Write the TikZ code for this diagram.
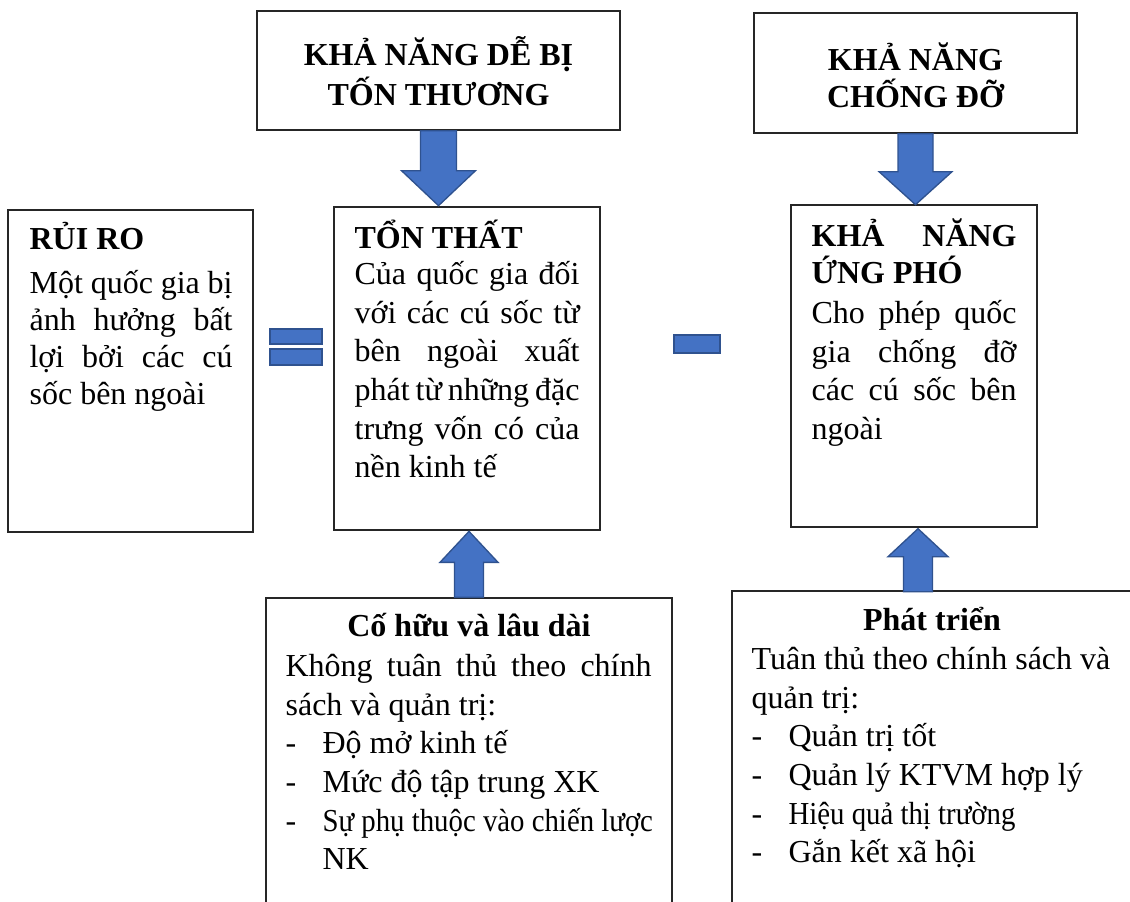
\documentclass[tikz,border=0pt]{standalone}
\usepackage{fontspec}
\setmainfont{Liberation Serif}
\usepackage{graphicx}
\usetikzlibrary{positioning, calc, fit}
\definecolor{arrowblue}{HTML}{4472C4}
\definecolor{arrowedge}{HTML}{2F528F}
\newcommand{\jline}[1]{\makebox[\hsize][s]{#1}} % justified line
\newcommand{\tight}[1]{\scalebox{0.9}[1]{#1}} % condensed line
\newcommand{\itemdash}{\makebox[27.75pt][l]{-}}
\tikzset{
    box/.style={draw=black!85, line width=1pt, fill=white, inner sep=0pt}, % the frames
    bluearrow/.style={draw=arrowedge, line width=1pt, fill=arrowblue, line join=miter}, % block arrows
    bluebar/.style={draw=arrowedge, line width=1pt, fill=arrowblue}, % = and - signs
    wordspace/.style={execute at begin node={\spaceskip=0.25em plus 0.6em minus 0.08em\relax}},
    fixedspace/.style={execute at begin node={\spaceskip=0.25em\relax}},
    headtext/.style={fixedspace, font=\fontsize{24}{30}\selectfont\bfseries, inner sep=0pt, align=center, anchor=base},
    titletext/.style={wordspace, font=\fontsize{24}{27.75}\selectfont\bfseries, inner sep=0pt, align=justify, anchor=base west},
    bodytext/.style={wordspace, font=\fontsize{24}{29}\selectfont, inner sep=0pt, align=justify, anchor=base west}
}
\begin{document}
\begin{tikzpicture}[x=0.75pt, y=-0.75pt]
		\useasboundingbox (0,0) rectangle (1130,901);
		\clip (0,0) rectangle (1130,901);
		
		% Khung
		\node[box, fit={(257,11) (620,130)}] (vuln) {};
		\node[box, fit={(754,13) (1077,133)}] (cope) {};
		\node[box, fit={(8,210) (253,532)}] (risk) {};
		\node[box, fit={(334,207) (600,530)}] (loss) {};
		\node[box, fit={(791,205) (1037,527)}] (response) {};
		\node[box, fit={(266,598) (672,930)}] (inherent) {};
		\node[box, fit={(732,591) (1140,930)}] (develop) {};
		
		% Chữ
		\node[headtext, text width=270pt] (vulntitle) at ($(vuln.north)+(0,55)$) {KHẢ NĂNG DỄ BỊ\\TỐN THƯƠNG};
		\node[headtext, text width=240pt, font=\fontsize{24}{27.75}\selectfont\bfseries] (copetitle) at ($(cope.north)+(0,58)$) {KHẢ NĂNG\\CHỐNG ĐỠ};
		
		\node[titletext] (risktitle) at ($(risk.north west)+(22,40)$) {RỦI RO};
		\node[bodytext, text width=152.25pt, font=\fontsize{24}{27.75}\selectfont] (riskbody) at ($(risk.north west)+(22,84)$)
			{\jline{Một quốc gia bị}\\\jline{ảnh hưởng bất}\\\jline{lợi bởi các cú}\\sốc bên ngoài};
		
		\node[titletext] (losstitle) at ($(loss.north west)+(21,42)$) {TỔN THẤT};
		\node[bodytext, text width=168.75pt] (lossbody) at ($(loss.north west)+(21,78)$)
			{\jline{Của quốc gia đối}\\\jline{với các cú sốc từ}\\\jline{bên ngoài xuất}\\\jline{phát từ những đặc}\\\jline{trưng vốn có của}\\nền kinh tế};
		
		\node[titletext, text width=153.75pt] (responsetitle) at ($(response.north west)+(21,42)$) {\jline{KHẢ NĂNG}\\ỨNG PHÓ};
		\node[bodytext, text width=153.75pt] (responsebody) at ($(response.north west)+(21,119)$)
			{\jline{Cho phép quốc}\\\jline{gia chống đỡ}\\\jline{các cú sốc bên}\\ngoài};
		
		\node[headtext] (inherenttitle) at ($(inherent.north)+(0,39)$) {Cố hữu và lâu dài};
		\node[bodytext, text width=274.5pt] (inherentbody) at ($(inherent.north west)+(20,79)$)
			{\jline{Không tuân thủ theo chính}\\sách và quản trị:\\\itemdash Độ mở kinh tế\\\itemdash Mức độ tập trung XK\\\itemdash\tight{Sự phụ thuộc vào chiến lược}\\\hspace*{27.75pt}NK};
		
		\node[headtext] (developtitle) at (932,630) {Phát triển};
		\node[bodytext, text width=280pt] (developbody) at ($(develop.north west)+(20,79)$)
			{Tuân thủ theo chính sách và\\quản trị:\\\itemdash Quản trị tốt\\\itemdash Quản lý KTVM hợp lý\\\itemdash\tight{Hiệu quả thị trường}\\\itemdash Gắn kết xã hội};
		
		% Dấu = và -
		\draw[bluebar] (270,329) rectangle (322,344);
		\draw[bluebar] (270,349) rectangle (322,365);
		\draw[bluebar] (674,335) rectangle (720,353);
		
		% Mũi tên
		\draw[bluearrow] (vuln.south) ++(-18,0) -- ++(36,0) -- ++(0,40) -- ++(19,0) -- ++(-37,35) -- ++(-37,-35) -- ++(19,0) -- cycle;
		\draw[bluearrow] (cope.south) ++(-17.5,0) -- ++(35,0) -- ++(0,38) -- ++(19,0) -- ++(-36.5,33) -- ++(-36.5,-33) -- ++(19,0) -- cycle;
		\draw[bluearrow] (inherent.north) ++(-14.5,0) -- ++(29,0) -- ++(0,-35) -- ++(14.5,0) -- ++(-29,-31) -- ++(-29,31) -- ++(14.5,0) -- cycle;
		\draw[bluearrow] (response.south) ++(-10.5,64) -- ++(29,0) -- ++(0,-35) -- ++(15.5,0) -- ++(-30,-28) -- ++(-30,28) -- ++(15.5,0) -- cycle;
	\end{tikzpicture}
\end{document}
